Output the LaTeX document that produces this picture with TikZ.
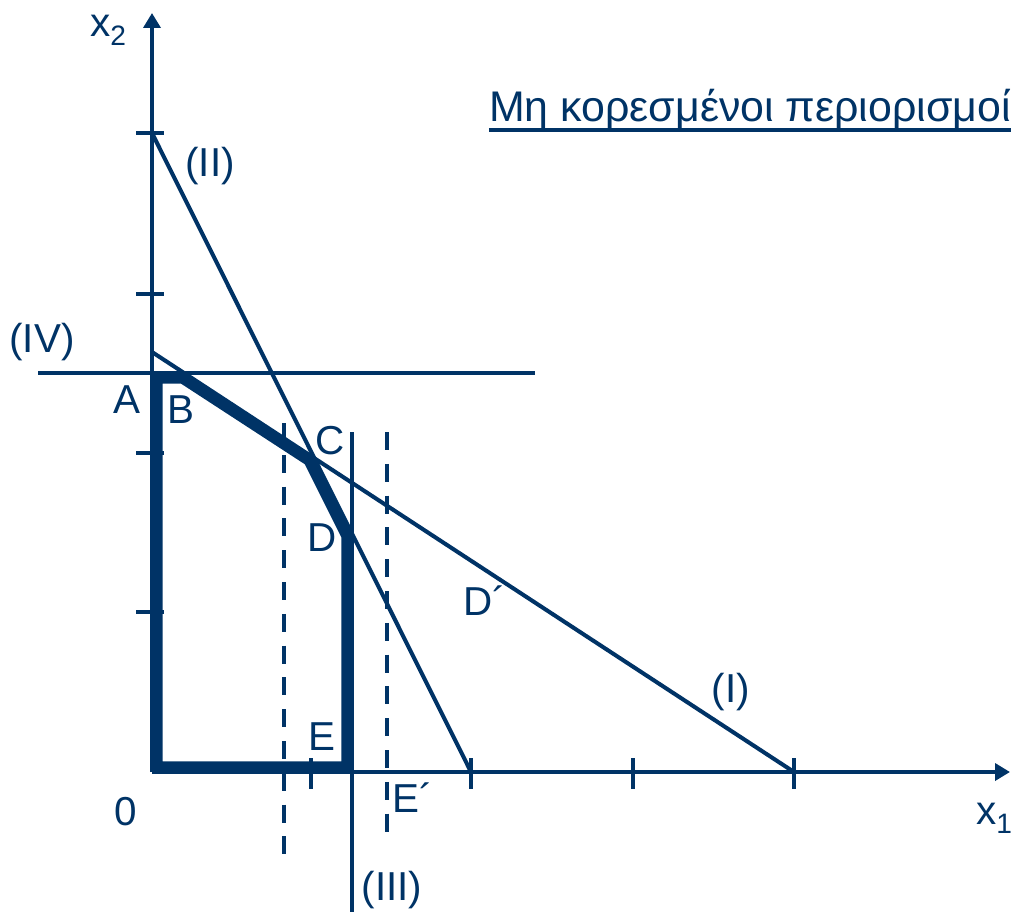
\documentclass[tikz,border=0pt]{standalone}
\usepackage{fontspec}
\setmainfont{Liberation Sans}
\usetikzlibrary{arrows.meta}
\definecolor{navy}{RGB}{0,51,102}
\newcommand{\mysub}[1]{\raisebox{-5pt}{\fontsize{16}{16}\selectfont #1}}
\begin{document}
\begin{tikzpicture}[x=0.02cm,y=-0.02cm,
  thinln/.style={navy,line width=2.3pt},
  axisln/.style={navy,line width=2.3pt,-{Triangle[length=8.5pt,width=9.6pt]}},
  tickln/.style={navy,line width=2.3pt},
  dashln/.style={navy,line width=2.3pt,dash pattern=on 10.2pt off 7.9pt},
  thickln/.style={navy,line width=12pt,line join=miter},
  lbl/.style={text=navy,font=\fontsize{23}{26}\selectfont,inner sep=0pt,anchor=center}]
\useasboundingbox (0,0) rectangle (1014,912);
% key points
\coordinate (O) at (152,772);
\coordinate (Ytip) at (152,13);
\coordinate (Xtip) at (1010,772);
\coordinate (A) at (152,373);
\coordinate (B) at (184,373);
\coordinate (C) at (313,457);
\coordinate (D) at (352,535);
\coordinate (E) at (352,772);
\coordinate (I1) at (152,352);
\coordinate (I2) at (794,772);
\coordinate (II1) at (152,133);
\coordinate (II2) at (471,772);
\coordinate (IV1) at (38,373);
\coordinate (IV2) at (535,373);
\coordinate (III1) at (352,432);
\coordinate (III2) at (352,912);
\coordinate (L1) at (284,423);
\coordinate (L2) at (284,855);
\coordinate (R1) at (387,432);
\coordinate (R2) at (387,845);
% feasible region (thick, inside)
\begin{scope}
  \clip (O) -- (A) -- (B) -- (C) -- (D) -- (E) -- cycle;
  \draw[thickln] (O) -- (A) -- (B) -- (C) -- (D) -- (E) -- cycle;
\end{scope}
% constraint lines
\draw[thinln] (I1) -- (I2);
\draw[thinln] (II1) -- (II2);
\draw[thinln] (IV1) -- (IV2);
\draw[thinln] (III1) -- (III2);
\draw[dashln] (L1) -- (L2);
\draw[dashln] (R1) -- (R2);
% axes
\draw[axisln] (O) -- (Ytip);
\draw[axisln] (O) -- (Xtip);
% ticks
\foreach \yy/\nm in {133/ya,294/yb,453/yc,612/yd}{
  \coordinate (\nm l) at (136,\yy);
  \coordinate (\nm r) at (164,\yy);
  \draw[tickln] (\nm l) -- (\nm r);
}
\foreach \xx/\nm in {311/xa,471/xb,633/xc,794/xd}{
  \coordinate (\nm t) at (\xx,758);
  \coordinate (\nm b) at (\xx,789);
  \draw[tickln] (\nm t) -- (\nm b);
}
% labels
\node[lbl] (lx2) at (108,30) {x\mysub{2}};
\node[lbl] (lx1) at (994,818) {x\mysub{1}};
\node[lbl] (l0) at (126,812) {0};
\node[lbl] (lII) at (210,166) {(II)};
\node[lbl] (lIV) at (42,342) {(IV)};
\node[lbl] (lA) at (127,400) {A};
\node[lbl] (lB) at (181,410) {B};
\node[lbl] (lC) at (330,441) {C};
\node[lbl] (lD) at (322,538) {D};
\node[lbl] (lE) at (322,737) {E};
\node[lbl] (lEp) at (413,798) {E´};
\node[lbl] (lIII) at (392,890) {(III)};
\node[lbl] (lDp) at (485,601) {D´};
\node[lbl] (lI) at (731,692) {(I)};
\node[lbl,anchor=base,font=\fontsize{24.4}{28}\selectfont] (title) at (750,122) {Μη κορεσμένοι περιορισμοί};
\draw[navy,line width=1.8pt] ([yshift=-0.16cm]title.base west) -- ([yshift=-0.16cm]title.base east);
\end{tikzpicture}
\end{document}
